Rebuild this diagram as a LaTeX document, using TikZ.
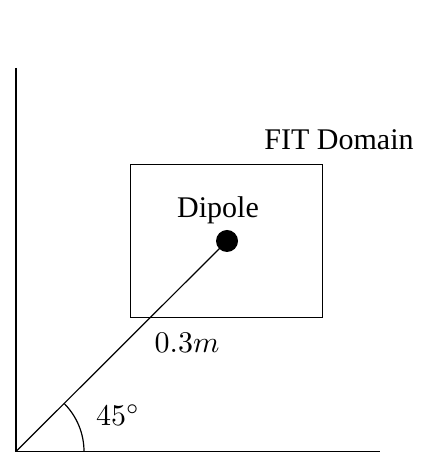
\documentclass[tikz,border=0pt]{standalone}
\usepackage{fontspec}
\setmainfont{Liberation Serif}
\begin{document}
\begin{tikzpicture}[x=0.33333pt,y=0.33333pt,
  lbl/.style={inner sep=0pt,font=\fontsize{10}{12}\selectfont},
  axisline/.style={line width=0.4pt}]
\useasboundingbox (0,0) rectangle (421,453);
\coordinate (O) at (16,1.5);
\coordinate (ytop) at (16,385);
\coordinate (xend) at (380,1.5);
\draw[axisline] (ytop) -- (O) -- (xend);
\node[draw,line width=0.4pt,minimum width=192*0.33333pt,minimum height=153.4*0.33333pt,inner sep=0pt] (dom) at (226.7,212) {};
\node[circle,fill=black,minimum size=22*0.33333pt,inner sep=0pt] (dip) at (227,212) {};
\draw (O) -- (dip.center);
\draw (O) ++(68,0) arc[start angle=0,end angle=45,radius=68];
\node[lbl] (fit) at (339,313) {FIT Domain};
\node[lbl] (dl) at (218,243) {Dipole};
\node[lbl] (dist) at (187,110) {$0.3m$};
\node[lbl] (ang) at (118,38) {$45^\circ$};
\end{tikzpicture}
\end{document}
